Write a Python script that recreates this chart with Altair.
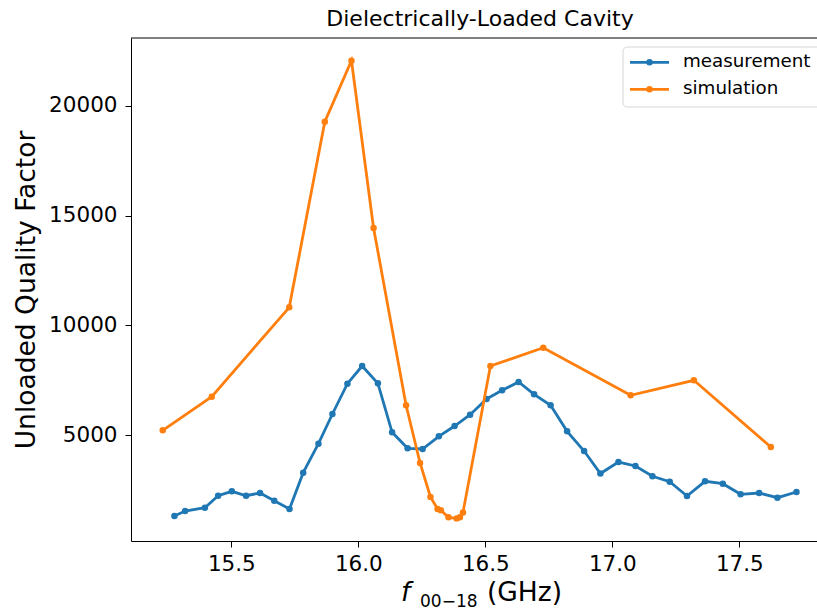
import altair as alt
import pandas as pd

# Measured unloaded Q versus resonance frequency of the 00-18 mode
meas_freq = [15.276, 15.318, 15.396, 15.448, 15.502, 15.558, 15.613, 15.669, 15.729, 15.783,
             15.843, 15.898, 15.957, 16.015, 16.077, 16.133, 16.194, 16.253, 16.317, 16.379,
             16.440, 16.505, 16.566, 16.631, 16.692, 16.757, 16.822, 16.889, 16.953, 17.024,
             17.091, 17.158, 17.226, 17.294, 17.365, 17.435, 17.505, 17.578, 17.650, 17.725]
meas_q = [1308, 1536, 1686, 2233, 2434, 2233, 2356, 2005, 1627, 3282,
          4604, 5957, 7339, 8145, 7355, 5122, 4392, 4362, 4940, 5410,
          5925, 6641, 7037, 7416, 6855, 6354, 5168, 4271, 3245, 3769,
          3587, 3117, 2871, 2220, 2890, 2780, 2297, 2356, 2142, 2402]

# Simulated unloaded Q
sim_freq = [15.230, 15.423, 15.728, 15.868, 15.973, 16.060, 16.188, 16.243, 16.284, 16.312,
            16.325, 16.355, 16.387, 16.400, 16.412, 16.520, 16.728, 17.072, 17.321, 17.624]
sim_q = [5214, 6746, 10820, 19280, 22060, 14435, 6354, 3724, 2180, 1627,
         1568, 1249, 1200, 1250, 1470, 8145, 8979, 6809, 7493, 4453]

series_names = ["measurement", "simulation"]
series_colors = ["#1f77b4", "#ff7f0e"]
x_ticks = [15.5, 16.0, 16.5, 17.0, 17.5]
y_ticks = [5000, 10000, 15000, 20000]

FONT = "DejaVu Sans"
W, H = 686, 503
X_DOMAIN = [15.105, 15.105 + W / 254.0]
Y_DOMAIN = [169, 23095]

df = pd.concat([
    pd.DataFrame({"freq": meas_freq, "q": meas_q, "series": series_names[0]}),
    pd.DataFrame({"freq": sim_freq, "q": sim_q, "series": series_names[1]}),
], ignore_index=True)

x_enc = alt.X("freq:Q",
              scale=alt.Scale(domain=X_DOMAIN, nice=False, zero=False),
              axis=alt.Axis(values=x_ticks, format=".1f", title=None, labelPadding=6))
y_enc = alt.Y("q:Q",
              scale=alt.Scale(domain=Y_DOMAIN, nice=False, zero=False),
              axis=alt.Axis(values=y_ticks, format="d", title="Unloaded Quality Factor",
                            labelPadding=8, titleX=-97, titleY=H / 2,
                            titleAlign="center", titleBaseline="alphabetic"))
color_enc = alt.Color("series:N",
                      scale=alt.Scale(domain=series_names, range=series_colors),
                      legend=None)

layers = []
for name in series_names:
    layers.append(
        alt.Chart(df)
        .transform_filter(alt.datum.series == name)
        .mark_line(strokeWidth=2.8,
                   point=alt.OverlayMarkDef(filled=True, size=42, opacity=1))
        .encode(x=x_enc, y=y_enc, color=color_enc)
    )

one = pd.DataFrame({"k": [0]})

# top spine
layers.append(
    alt.Chart(one).mark_rule(color="black", strokeWidth=1)
    .encode(x=alt.value(0), x2=alt.value(W + 5), y=alt.value(0))
)

# chart title, centred over the full axes box
layers.append(
    alt.Chart(one).mark_text(align="center", baseline="alphabetic", font=FONT,
                             fontSize=22, color="black",
                             text="Dielectrically-Loaded Cavity")
    .encode(x=alt.value(349), y=alt.value(-12))
)

# legend box
layers.append(
    alt.Chart(one).mark_rect(fill="white", fillOpacity=0.8, stroke="#d6d6d6",
                             strokeWidth=1, cornerRadius=4)
    .encode(x=alt.value(492), x2=alt.value(730), y=alt.value(9), y2=alt.value(69))
)
for i, (name, col) in enumerate(zip(series_names, series_colors)):
    ry = 24.3 + 27 * i
    layers.append(
        alt.Chart(one).mark_rule(color=col, strokeWidth=2.8)
        .encode(x=alt.value(499), x2=alt.value(538), y=alt.value(ry))
    )
    layers.append(
        alt.Chart(one).mark_point(filled=True, size=42, opacity=1, color=col)
        .encode(x=alt.value(518.5), y=alt.value(ry))
    )
    layers.append(
        alt.Chart(one).mark_text(align="left", baseline="middle", font=FONT,
                                 fontSize=18.3, color="black", text=name)
        .encode(x=alt.value(552), y=alt.value(ry))
    )

# x-axis title: italic f with subscript 00-18, then the unit
layers.append(
    alt.Chart(one).mark_text(align="left", baseline="alphabetic", font=FONT,
                             fontSize=26.5, fontStyle="italic", color="black", text="f")
    .encode(x=alt.value(270), y=alt.value(563))
)
layers.append(
    alt.Chart(one).mark_text(align="left", baseline="alphabetic", font=FONT,
                             fontSize=17, color="black", text="00\u221218")
    .encode(x=alt.value(289), y=alt.value(569))
)
layers.append(
    alt.Chart(one).mark_text(align="left", baseline="alphabetic", font=FONT,
                             fontSize=26.5, color="black", text="(GHz)")
    .encode(x=alt.value(356), y=alt.value(563))
)

chart = (
    alt.layer(*layers)
    .properties(
        width=W, height=H,
        autosize=alt.AutoSizeParams(type="none"),
        padding={"left": 131, "top": 38, "right": 0, "bottom": 69},
    )
    .configure_view(stroke="transparent")
    .configure_axis(domainColor="black", domainWidth=1, tickColor="black", tickWidth=1,
                    tickSize=6, labelColor="black", labelFont=FONT, labelFontSize=21.5,
                    grid=False, titleFont=FONT, titleFontSize=26.5,
                    titleFontWeight="normal", titleColor="black")
)

chart.save("out.html", embed_options={"renderer": "svg", "actions": False})
